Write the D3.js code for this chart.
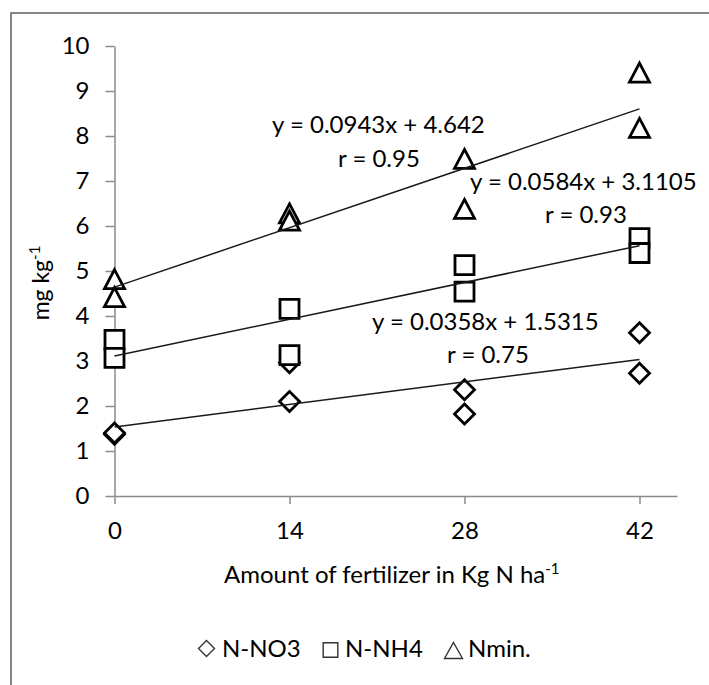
<!DOCTYPE html>
<html>
<head>
<meta charset="utf-8">
<script src="https://cdn.jsdelivr.net/npm/d3@7"></script>
<style>
  body { margin: 0; background: #fff; }
  text { font-family: Lato, "Open Sans", sans-serif; fill: #000; }
</style>
</head>
<body>
<script>
// Fertilizer rates (two replicates per rate)
const doses = [0, 0, 14, 14, 28, 28, 42, 42];
const no3 = [1.37, 1.40, 2.10, 2.96, 2.36, 1.82, 3.63, 2.73];
const nh4 = [3.47, 3.07, 4.16, 3.13, 5.13, 4.54, 5.73, 5.40];
const nmin = [4.82, 4.42, 6.28, 6.12, 7.49, 6.38, 9.41, 8.18];

// Linear fits as printed on the chart
const fitSlopes = [0.0358, 0.0584, 0.0943];
const fitIntercepts = [1.5315, 3.1105, 4.642];
const fitLabels = ["y = 0.0358x + 1.5315", "y = 0.0584x + 3.1105", "y = 0.0943x + 4.642"];
const fitR = ["r = 0.75", "r = 0.93", "r = 0.95"];

const xTicks = [0, 14, 28, 42];
const yTicks = [0, 1, 2, 3, 4, 5, 6, 7, 8, 9, 10];
const seriesNames = ["N-NO3", "N-NH4", "Nmin."];

const width = 709, height = 685;
const fontSize = 24;
const svg = d3.select("body").append("svg")
    .attr("width", width)
    .attr("height", height);

// outer frame (right and bottom edges are off the picture)
svg.append("rect")
    .attr("x", 11).attr("y", 13)
    .attr("width", 760).attr("height", 760)
    .attr("fill", "none")
    .attr("stroke", "#5f5f5f")
    .attr("stroke-width", 1.5);

const x = d3.scaleLinear().domain([0, 45]).range([114.5, 677]);
const y = d3.scaleLinear().domain([0, 10]).range([496, 46]);

const axisColor = "#8a8a8a";

// y axis
const yAxis = svg.append("g")
    .attr("transform", `translate(${x(0)},0)`)
    .call(d3.axisLeft(y).tickValues(yTicks).tickSize(9).tickSizeOuter(0).tickPadding(16));
// x axis
const xAxis = svg.append("g")
    .attr("transform", `translate(0,${y(0)})`)
    .call(d3.axisBottom(x).tickValues(xTicks).tickSize(8).tickSizeOuter(0).tickPadding(18));

[yAxis, xAxis].forEach(ax => {
    ax.select(".domain").attr("stroke", axisColor).attr("stroke-width", 1.5);
    ax.selectAll(".tick line").attr("stroke", axisColor).attr("stroke-width", 1.5);
    ax.selectAll(".tick text")
        .attr("font-family", "Lato, 'Open Sans', sans-serif")
        .attr("font-size", fontSize)
        .attr("fill", "#000");
});

// axis titles
const xTitle = svg.append("text")
    .attr("x", 224).attr("y", 583)
    .attr("font-size", fontSize);
xTitle.append("tspan").text("Amount of fertilizer in Kg N ha");
xTitle.append("tspan").attr("dy", -9).attr("font-size", 15).text("-1");

const yTitle = svg.append("text")
    .attr("transform", "translate(49,283) rotate(-90)")
    .attr("text-anchor", "middle")
    .attr("font-size", 23);
yTitle.append("tspan").text("mg kg");
yTitle.append("tspan").attr("dy", -9).attr("font-size", 15).text("-1");

// marker shapes, centred on their bounding box
function diamondPath(s) {
    return `M0,${-s}L${s},0L0,${s}L${-s},0Z`;
}
function squarePath(s) {
    return `M${-s},${-s}H${s}V${s}H${-s}Z`;
}
function trianglePath(w, h) {
    return `M0,${-h / 2}L${w / 2},${h / 2}L${-w / 2},${h / 2}Z`;
}

const seriesValues = [no3, nh4, nmin];
const markerPaths = [diamondPath(10), squarePath(9.5), trianglePath(20, 19)];

seriesValues.forEach((vals, i) => {
    svg.append("g").selectAll("path")
        .data(vals.map((v, j) => [doses[j], v]))
        .join("path")
        .attr("d", markerPaths[i])
        .attr("transform", d => `translate(${x(d[0])},${y(d[1])})`)
        .attr("fill", "#fff")
        .attr("stroke", "#000")
        .attr("stroke-width", 2.8);
});

// trend lines
const line = d3.line().x(d => x(d[0])).y(d => y(d[1]));
fitSlopes.forEach((m, i) => {
    const b = fitIntercepts[i];
    svg.append("path")
        .attr("d", line([[0, b], [42, b + m * 42]]))
        .attr("fill", "none")
        .attr("stroke", "#1a1a1a")
        .attr("stroke-width", 1.5);
});

// fit labels (anchor points)
const labelPos = [[372, 330, 447, 363], [470, 190, 545, 223], [272, 133, 338, 167]];
fitLabels.forEach((t, i) => {
    const p = labelPos[i];
    svg.append("text").attr("x", p[0]).attr("y", p[1]).attr("font-size", fontSize).text(t);
    svg.append("text").attr("x", p[2]).attr("y", p[3]).attr("font-size", fontSize).text(fitR[i]);
});

// legend
const legendSymbols = [
    {d: diamondPath(8), cx: 206.5, cy: 648.5, tx: 222},
    {d: squarePath(7.3), cx: 330.5, cy: 650, tx: 345},
    {d: trianglePath(18, 16), cx: 453.5, cy: 650.5, tx: 468}
];
legendSymbols.forEach((s, i) => {
    svg.append("path")
        .attr("d", s.d)
        .attr("transform", `translate(${s.cx},${s.cy})`)
        .attr("fill", "#fff")
        .attr("stroke", "#333")
        .attr("stroke-width", 1.4);
    svg.append("text")
        .attr("x", s.tx).attr("y", 657)
        .attr("font-size", fontSize)
        .text(seriesNames[i]);
});
</script>
</body>
</html>
